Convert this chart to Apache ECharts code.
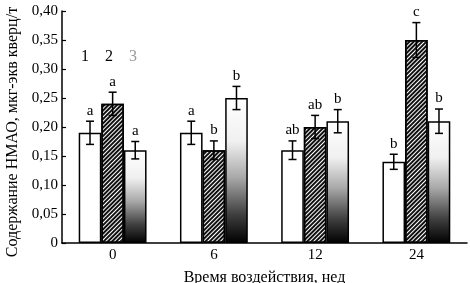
<!DOCTYPE html>
<html>
<head>
<meta charset="utf-8">
<script src="https://cdn.jsdelivr.net/npm/echarts@6/dist/echarts.min.js"></script>
<style>
  html, body { margin: 0; padding: 0; background: #fff; }
  #chart { width: 470px; height: 283px; }
</style>
</head>
<body>
<div id="chart"></div>
<script>
const categories = ['0', '6', '12', '24']
const series1 = [0.19, 0.19, 0.16, 0.14]
const series2 = [0.24, 0.16, 0.20, 0.35]
const series3 = [0.16, 0.25, 0.21, 0.21]
const err1 = [0.02, 0.02, 0.016, 0.013]
const err2 = [0.02, 0.016, 0.02, 0.03]
const err3 = [0.015, 0.02, 0.02, 0.021]
const letters1 = ['a', 'a', 'ab', 'b']
const letters2 = ['a', 'b', 'ab', 'c']
const letters3 = ['a', 'b', 'b', 'b']
const legendLabels = ['1', '2', '3']

const FONT = '"Liberation Serif", "Times New Roman", serif'
const BAR_SHARE = 0.67

const myChart = echarts.init(document.getElementById('chart'))

// error bars + letter marks, one item per bar
const errData = []
;[[series1, err1, letters1], [series2, err2, letters2], [series3, err3, letters3]].forEach((s, si) => {
    s[0].forEach((v, ci) => {
        errData.push([ci, si, v, s[1][ci], s[2][ci]])
    })
})

const barStyle = {
    borderColor: '#000',
    borderWidth: 1.5
}

const option = {
    animation: false,
    textStyle: { fontFamily: FONT },
    grid: { left: 62, right: 3, top: 11, bottom: 40, outerBoundsMode: 'none', containLabel: false },
    xAxis: {
        type: 'category',
        data: categories,
        name: 'Время воздействия, нед',
        nameLocation: 'middle',
        nameGap: 27,
        nameTextStyle: { color: '#000', fontSize: 16, fontFamily: FONT },
        axisLine: { lineStyle: { color: '#000', width: 1.5 } },
        axisTick: { inside: true, length: 4, lineStyle: { color: '#000', width: 1.2 } },
        axisLabel: { color: '#000', fontSize: 15, fontFamily: FONT, margin: 5 }
    },
    yAxis: {
        type: 'value',
        min: 0,
        max: 0.4,
        interval: 0.05,
        name: 'Содержание НМАО, мкг-экв кверц/т',
        nameLocation: 'middle',
        nameGap: 41,
        nameTextStyle: { color: '#000', fontSize: 16, fontFamily: FONT, padding: [0, 10, 0, 0] },
        splitLine: { show: false },
        axisLine: { show: true, lineStyle: { color: '#000', width: 1.5 } },
        axisTick: { show: true, inside: true, length: 4, lineStyle: { color: '#000', width: 1.2 } },
        axisLabel: {
            color: '#000', fontSize: 15, fontFamily: FONT, margin: 4,
            formatter: v => v === 0 ? '0' : v.toFixed(2).replace('.', ',')
        }
    },
    graphic: legendLabels.map((t, i) => ({
        type: 'text',
        left: 81 + i * 24,
        top: 49,
        style: { text: t, fill: i === 2 ? '#999' : '#000', font: '16px ' + FONT }
    })),
    series: [{
        type: 'bar',
        data: series1,
        barGap: '0%',
        barCategoryGap: '33%',
        itemStyle: Object.assign({ color: '#fff' }, barStyle)
    }, {
        type: 'bar',
        data: series2,
        itemStyle: Object.assign({
            color: '#fff',
            decal: {
                symbol: 'rect',
                symbolSize: 1,
                dashArrayX: [1, 0],
                dashArrayY: [1.2, 1],
                rotation: -Math.PI / 4,
                color: '#111'
            }
        }, barStyle)
    }, {
        type: 'bar',
        data: series3,
        itemStyle: Object.assign({
            color: new echarts.graphic.LinearGradient(0, 0, 0, 1, [
                { offset: 0, color: '#ffffff' },
                { offset: 0.3, color: '#f0f0f0' },
                { offset: 0.55, color: '#a8a8a8' },
                { offset: 0.8, color: '#404040' },
                { offset: 1, color: '#000000' }
            ])
        }, barStyle)
    }, {
        type: 'custom',
        data: errData,
        z: 10,
        renderItem: (params, api) => {
            const ci = api.value(0)
            const si = api.value(1)
            const v = api.value(2)
            const e = api.value(3)
            const letter = errData[params.dataIndex][4]
            const bw = api.size([1, 0])[0] * BAR_SHARE / 3
            const x = api.coord([ci, v])[0] + (si - 1) * bw
            const yTop = api.coord([ci, v + e])[1]
            const yBot = api.coord([ci, v - e])[1]
            const cap = 4
            const ls = { stroke: '#000', lineWidth: 1.5 }
            return {
                type: 'group',
                children: [
                    { type: 'line', shape: { x1: x, y1: yTop, x2: x, y2: yBot }, style: ls },
                    { type: 'line', shape: { x1: x - cap, y1: yTop, x2: x + cap, y2: yTop }, style: ls },
                    { type: 'line', shape: { x1: x - cap, y1: yBot, x2: x + cap, y2: yBot }, style: ls },
                    {
                        type: 'text',
                        style: {
                            text: letter, x: x, y: yTop - 3,
                            align: 'center', verticalAlign: 'bottom',
                            fill: '#000', font: '15px ' + FONT
                        }
                    }
                ]
            }
        }
    }]
}

myChart.setOption(option)
</script>
</body>
</html>
